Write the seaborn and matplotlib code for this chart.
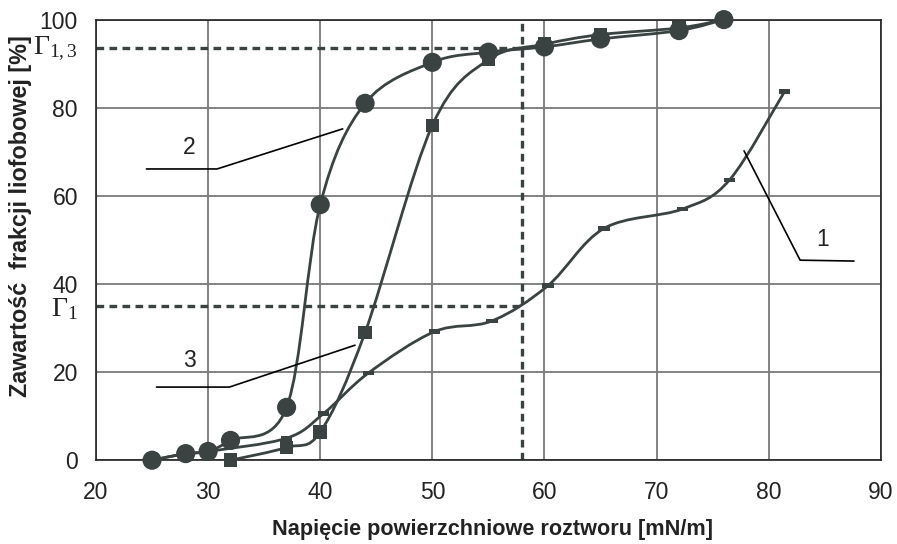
import numpy as np
import pandas as pd
import matplotlib
matplotlib.use("Agg")
import matplotlib.pyplot as plt
from matplotlib.path import Path
from matplotlib.patches import PathPatch
import seaborn as sns

# curve 1 - small dash markers
x1 = [25, 28, 30, 37, 40.3, 44.3, 50.2, 55.3, 60.3, 65.3, 72.3, 76.5, 81.4]
y1 = [0, 1.5, 2.0, 5.0, 10.6, 19.8, 29.2, 31.6, 39.6, 52.6, 57.0, 63.6, 83.6]
# curve 2 - circles
x2 = [25, 28, 30, 32, 37, 40, 44, 50, 55, 60, 65, 72, 76]
y2 = [0, 1.5, 2.0, 4.5, 12.0, 58.0, 81.0, 90.3, 92.6, 93.8, 95.6, 97.5, 100]
# curve 3 - squares
x3 = [32, 37, 40, 44, 50, 55, 60, 65, 72, 76]
y3 = [0, 2.9, 6.4, 29.0, 76.0, 90.9, 94.4, 96.6, 98.1, 100]

gamma_13 = 93.6
gamma_1 = 35.0
x_crit = 58

ink = "#3a4242"


def smooth_path(xs, ys, t=1 / 6):
    # Excel-like smoothed line: cubic bezier segments through the points
    pts = np.column_stack([xs, ys]).astype(float)
    n = len(pts)
    verts = [pts[0]]
    codes = [Path.MOVETO]
    for i in range(n - 1):
        p0 = pts[max(i - 1, 0)]
        p1 = pts[i]
        p2 = pts[i + 1]
        p3 = pts[min(i + 2, n - 1)]
        verts += [p1 + (p2 - p0) * t, p2 - (p3 - p1) * t, p2]
        codes += [Path.CURVE4] * 3
    return Path(verts, codes)


sns.set_style("white")
plt.rcParams["font.family"] = ["Liberation Sans", "DejaVu Sans"]
plt.rcParams["mathtext.fontset"] = "custom"
plt.rcParams["mathtext.rm"] = "Liberation Serif"
plt.rcParams["mathtext.it"] = "Liberation Serif:italic"

fig, ax = plt.subplots(figsize=(8.97, 5.44), dpi=100)
fig.subplots_adjust(left=0.107, right=0.982, top=0.964, bottom=0.154)

ax.set_xlim(20, 90)
ax.set_ylim(0, 100)
ax.set_xticks(range(20, 91, 10))
ax.set_yticks(range(0, 101, 20))
ax.grid(True, color="#7a7a7a", linewidth=1.3)
for s in ax.spines.values():
    s.set_color("#222222")
    s.set_linewidth(1.2)
ax.tick_params(direction="out", length=6, width=1.1, color="#222222",
               labelsize=16.5, labelcolor="#222222")
ax.tick_params(axis="y", pad=7)
ax.tick_params(axis="x", pad=9)

# reference dashed lines
ax.plot([20, x_crit], [gamma_13, gamma_13], color=ink, lw=2.4, dashes=(2.3, 1.6), zorder=2)
ax.plot([20, x_crit], [gamma_1, gamma_1], color=ink, lw=2.4, dashes=(2.3, 1.6), zorder=2)
ax.plot([x_crit, x_crit], [0, 100], color=ink, lw=2.4, dashes=(2.3, 1.6), zorder=2)

# smooth curves
for xs, ys in [(x1, y1), (x3, y3), (x2, y2)]:
    ax.add_patch(PathPatch(smooth_path(xs, ys), facecolor="none", edgecolor=ink,
                           lw=2.0, zorder=3, clip_on=False))

d1 = pd.DataFrame({"x": x1, "y": y1})
d2 = pd.DataFrame({"x": x2, "y": y2})
d3 = pd.DataFrame({"x": x3, "y": y3})
dash = [(-1.2, -0.5), (1.2, -0.5), (1.2, 0.5), (-1.2, 0.5)]
sns.scatterplot(data=d1.iloc[3:], x="x", y="y", marker=dash, s=70, color=ink,
                edgecolor="none", ax=ax, zorder=4, clip_on=False)
sns.scatterplot(data=d3, x="x", y="y", marker="s", s=95, color=ink,
                edgecolor="none", ax=ax, zorder=5, clip_on=False)
sns.scatterplot(data=d2, x="x", y="y", marker="o", s=190, color=ink,
                edgecolor="none", ax=ax, zorder=6, clip_on=False)
ax.set_xlabel("")
ax.set_ylabel("")

# curve labels with leader lines
ax.plot([24.5, 30.8, 42.0], [66.1, 66.1, 75.2], color="black", lw=1.2, zorder=3)
ax.text(28.3, 70.9, "2", fontsize=16.5, ha="center", va="center", color="#222222")
ax.plot([25.4, 31.9, 43.1], [16.6, 16.6, 26.1], color="black", lw=1.2, zorder=3)
ax.text(28.3, 22.7, "3", fontsize=16.5, ha="center", va="center", color="#222222")
ax.plot([77.8, 82.8, 87.6], [70.2, 45.4, 45.2], color="black", lw=1.2, zorder=3)
ax.text(84.8, 50.0, "1", fontsize=16.5, ha="center", va="center", color="#222222")

# Gamma markers left of the axis
ax.annotate(r"$\Gamma_{1,3}$", xy=(0, gamma_13), xycoords=("axes fraction", "data"),
            xytext=(-13, -1), textcoords="offset points", ha="right", va="center",
            fontsize=20, color="#222222")
ax.annotate(r"$\Gamma_{1}$", xy=(0, gamma_1), xycoords=("axes fraction", "data"),
            xytext=(-13, -2), textcoords="offset points", ha="right", va="center",
            fontsize=20, color="#222222")

fig.text(492 / 897, 1 - 530 / 544, "Napięcie powierzchniowe roztworu [mN/m]",
         ha="center", va="center", fontsize=15.6, fontweight="bold", color="#222222")
fig.text(21 / 897, 1 - 216 / 544, "Zawartość  frakcji liofobowej [%]",
         ha="center", va="center", rotation=90, fontsize=16.8, fontweight="bold",
         color="#222222")

fig.savefig("out.png", dpi=100)
